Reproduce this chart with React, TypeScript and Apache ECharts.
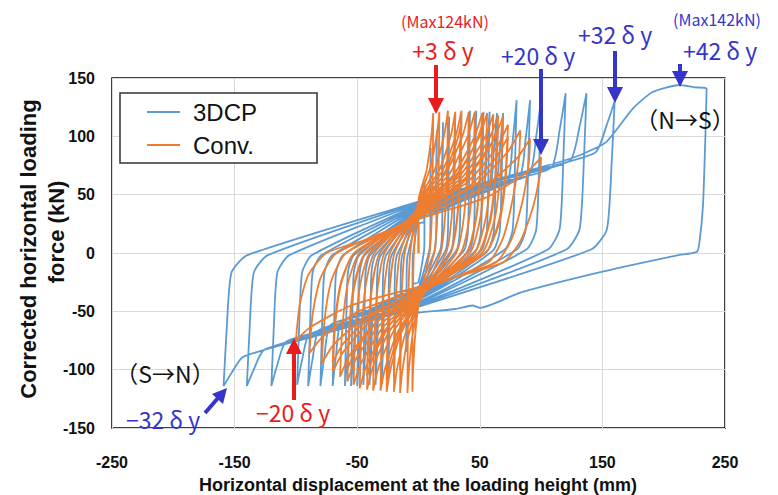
import React, { useEffect, useRef } from 'react';
import * as echarts from 'echarts';

// Axis ranges / ticks
const xRange = [-250, 250];
const xStep = 100;
const yRange = [-150, 150];
const yStep = 50;

// ---- 3DCP specimen: hysteresis cycles, [displacement mm, force kN]
const blueSmallCycles: number[][][] = [
  [[0,25],[2.5,26],[4.5,26],[4.8,43],[5,60],[4.9,36],[4.8,9],[4.4,1],[0,-25],[-2.5,-26],[-4.5,-26],[-4.8,-41],[-5,-55],[-4.9,-33],[-4.8,-8],[-4.4,-1]],
  [[0,30],[5,32],[9,33],[9.6,61],[10,90],[9.85,54],[9.6,14],[8.8,2],[0,-30],[-5,-32],[-9,-33],[-9.6,-59],[-10,-85],[-9.85,-51],[-9.6,-13],[-8.8,-2]],
  [[0,30],[7.5,32],[13.5,34],[14.4,70],[15,105],[14.8,63],[14.4,16],[13.2,2],[0,-30],[-7.5,-32],[-13.5,-34],[-14.4,-67],[-15,-100],[-14.8,-60],[-14.4,-15],[-13.2,-2]],
  [[0,32],[10,35],[18,37],[19.2,75],[20,112],[19.7,67],[19.2,17],[17.6,2],[0,-32],[-10,-35],[-18,-37],[-19.2,-72],[-20,-106],[-19.7,-64],[-19.2,-16],[-17.6,-2]],
  [[0,32],[12.5,36],[22.5,39],[24,78],[25,117],[24.6,70],[24,18],[22,2],[0,-33],[-12.5,-37],[-22.5,-40],[-24,-75],[-25,-110],[-24.6,-66],[-24,-17],[-22,-2]],
  [[0,33],[15,36],[27,41],[28.8,80],[30,119],[29.5,71],[28.8,18],[26.4,2],[0,-34],[-15,-37],[-27,-42],[-28.8,-77],[-30,-112],[-29.5,-67],[-28.8,-17],[-26.4,-2]],
  [[0,34],[17.5,39],[31.5,43],[33.6,82],[35,120],[34.5,72],[33.6,18],[30.8,2],[0,-35],[-17.5,-40],[-31.5,-44],[-33.6,-79],[-35,-113],[-34.5,-68],[-33.6,-17],[-30.8,-2]],
];
const blueMidCycles: number[][][] = [
  [[0,35],[21,41],[37.8,46],[40.3,85],[42,122],[41.4,73],[40.3,18],[37,2],[0,-36],[-20,-42],[-36,-47],[-38.4,-80],[-40,-113],[-39.4,-68],[-38.4,-17],[-35.2,-2]],
  [[0,35],[23.5,42],[42.3,48],[45.1,85],[47,122],[46.3,73],[45.1,18],[41.4,2],[0,-37],[-22.5,-44],[-40.5,-49],[-43.2,-82],[-45,-113],[-44.3,-68],[-43.2,-17],[-39.6,-2]],
  [[0,36],[26.5,44],[47.7,50],[50.9,86],[53,121],[52.2,73],[50.9,18],[46.6,2],[0,-38],[-25,-46],[-45,-52],[-48,-83],[-50,-114],[-49.2,-68],[-48,-17],[-44,-2]],
  [[0,36],[29,45],[52.2,52],[55.7,87],[58,121],[57.1,73],[55.7,18],[51,2],[0,-38],[-27.5,-46],[-49.5,-53],[-52.8,-84],[-55,-114],[-54.2,-68],[-52.8,-17],[-48.4,-2]],
  [[0,37],[32,47],[57.6,54],[61.4,88],[64,120],[63,72],[61.4,18],[56.3,2],[0,-39],[-30,-48],[-54,-55],[-57.6,-85],[-60,-114],[-59.1,-68],[-57.6,-17],[-52.8,-2]],
  [[0,37],[34.5,47],[62.1,56],[66.2,88],[69,120],[68,72],[66.2,18],[60.7,2],[0,-40],[-35,-50],[-63,-59],[-67.2,-87],[-70,-114],[-69,-68],[-67.2,-17],[-61.6,-2]],
];
const blueLargeCycles: number[][][] = [
  [[0,38],[40,50],[72,60],[76.8,96],[80,131],[78.8,79],[76.8,20],[70.4,3],[0,-40],[-40,-52],[-72,-62],[-76.8,-89],[-80,-114],[-78.8,-68],[-76.8,-17],[-70.4,-2]],
  [[0,39],[45.5,53],[81.9,64],[87.4,98],[91,131],[89.6,79],[87.4,20],[80.1,3],[0,-42],[-45,-56],[-81,-66],[-86.4,-91],[-90,-114],[-88.6,-68],[-86.4,-17],[-79.2,-2]],
  [[0,40],[50,55],[90,67],[96,100],[100,132],[98.5,79],[96,20],[88,3],[0,-43],[-49.5,-58],[-89.1,-70],[-95,-92],[-99,-113],[-97.5,-68],[-95,-17],[-87.1,-2]],
  [[0,41],[60,59],[108,73],[115.2,106],[120,137],[118.2,82],[115.2,21],[105.6,3],[0,-44],[-60,-62],[-108,-76],[-115.2,-96],[-120,-114],[-118.2,-68],[-115.2,-17],[-105.6,-2]],
  [[0,42],[68.5,63],[123.3,79],[131.5,109],[137,137],[135,82],[131.5,21],[120.6,3],[0,-45],[-70,-66],[-126,-83],[-134.4,-100],[-140,-114],[-137.9,-68],[-134.4,-17],[-123.2,-2]],
  [[0,43],[80,67],[144,86],[153.6,110],[160,130],[157.6,78],[153.6,20],[140.8,3],[0,-46],[-79.5,-70],[-143.1,-89],[-152.6,-103],[-159,-114],[-156.6,-68],[-152.6,-17],[-140,-2]],
];
const blueFinalPush: number[][] = [
  [0,44],[60,62],[115,78],[132,84],[153,95],[175,124],[191,138],[213,144],[225,142],[235,141],[234,100],[232,40],[229,8],[227,1],[211,-2],[150,-16],[83,-34],[50,-47],[44,-45],[30,-48],[0,-51],[-15,-54],
];

// ---- Conventional specimen cycles
const convEarlyCycles: number[][][] = [
  [[0,45],[6.6,71],[10.6,101],[12,120],[11.6,72],[10.8,30],[9,0],[0,-45],[-2.75,-71],[-4.4,-100],[-5,-119],[-4.85,-71],[-4.5,-30],[-3.75,0]],
  [[0,45],[9.35,72],[15,102],[17,121],[16.5,73],[15.3,30],[12.75,0],[0,-45],[-4.95,-71],[-7.9,-101],[-9,-120],[-8.7,-72],[-8.1,-30],[-6.75,0]],
  [[0,44],[13.2,71],[21.1,102],[24,122],[23.3,73],[21.6,31],[18,0],[0,-44],[-8.25,-71],[-13.2,-101],[-15,-120],[-14.55,-72],[-13.5,-30],[-11.25,0]],
  [[0,43],[16.5,70],[26.4,101],[30,121],[29.1,73],[27,30],[22.5,0],[0,-43],[-11,-70],[-17.6,-100],[-20,-119],[-19.4,-71],[-18,-30],[-15,0]],
  [[0,42],[19.25,70],[30.8,102],[35,122],[34,73],[31.5,31],[26.25,0],[0,-42],[-14.3,-69],[-22.9,-100],[-26,-119],[-25.2,-71],[-23.4,-30],[-19.5,0]],
  [[0,40],[19.25,65],[30.8,94],[35,112],[34,67],[31.5,28],[26.25,0],[0,-40],[-14.3,-65],[-22.9,-92],[-26,-110],[-25.2,-66],[-23.4,-28],[-19.5,0]],
  [[0,41],[22.55,69],[36.1,101],[41,121],[39.8,73],[36.9,30],[30.75,0],[0,-41],[-17.05,-68],[-27.3,-99],[-31,-118],[-30.1,-71],[-27.9,-30],[-23.25,0]],
  [[0,40],[25.3,68],[40.5,101],[46,121],[44.6,73],[41.4,30],[34.5,0],[0,-40],[-20.35,-67],[-32.6,-98],[-37,-118],[-35.9,-71],[-33.3,-30],[-27.75,0]],
];
const convMidCycles: number[][][] = [
  [[0,39],[28.6,67],[45.8,100],[52,120],[50.4,72],[46.8,30],[39,0],[0,-39],[-23.1,-66],[-37,-97],[-42,-117],[-40.7,-70],[-37.8,-29],[-31.5,0]],
  [[0,37],[28.6,62],[45.8,92],[52,110],[50.4,66],[46.8,28],[39,0],[0,-37],[-23.1,-61],[-37,-89],[-42,-106],[-40.7,-64],[-37.8,-26],[-31.5,0]],
  [[0,38],[30.8,67],[49.3,99],[56,120],[54.3,72],[50.4,30],[42,0],[0,-38],[-26.4,-65],[-42.2,-96],[-48,-116],[-46.6,-70],[-43.2,-29],[-36,0]],
  [[0,37],[33.55,66],[53.7,98],[61,119],[59.2,71],[54.9,30],[45.75,0],[0,-37],[-29.15,-64],[-46.6,-94],[-53,-113],[-51.4,-68],[-47.7,-28],[-39.75,0]],
  [[0,36],[35.75,65],[57.2,97],[65,118],[63,71],[58.5,30],[48.75,0],[0,-36],[-31.9,-62],[-51,-91],[-58,-110],[-56.3,-66],[-52.2,-28],[-43.5,0]],
  [[0,34],[35.75,60],[57.2,89],[65,108],[63,65],[58.5,27],[48.75,0],[0,-34],[-31.9,-57],[-51,-83],[-58,-100],[-56.3,-60],[-52.2,-25],[-43.5,0]],
  [[0,35],[37.95,64],[60.7,96],[69,117],[66.9,70],[62.1,29],[51.75,0],[0,-35],[-35.2,-60],[-56.3,-88],[-64,-106],[-62.1,-64],[-57.6,-26],[-48,0]],
];
const convLateCycles: number[][][] = [
  [[0,34],[40.15,61],[64.2,91],[73,110],[70.8,66],[65.7,28],[54.75,0],[0,-34],[-38.5,-58],[-61.6,-85],[-70,-102],[-67.9,-61],[-63,-26],[-52.5,0]],
  [[0,32],[40.15,56],[64.2,83],[73,100],[70.8,60],[65.7,25],[54.75,0],[0,-32],[-38.5,-54],[-61.6,-78],[-70,-94],[-67.9,-56],[-63,-24],[-52.5,0]],
  [[0,33],[45.65,58],[73,87],[83,105],[82,82],[77,47],[69,13],[57,-8],[0,-33],[-43.45,-55],[-69.5,-79],[-79,-95],[-76.6,-57],[-71.1,-24],[-59.25,0]],
  [[0,31],[50,54],[80,81],[91,98],[90,78],[85,45],[76,12],[63,-8],[0,-31],[-49,-50],[-78.3,-72],[-89,-86],[-86.3,-52],[-80.1,-22],[-66.75,0]],
  [[0,29],[55,47.5],[88,69],[100,82],[99,67],[93,38],[83,10],[69,-8],[0,-29],[-55,-45],[-88,-63.5],[-100,-75],[-97,-45],[-90,-19],[-75,0],[-30,15]],
];

const blueData: number[][] = [[0, 0], ...blueSmallCycles.flat(), ...blueMidCycles.flat(), ...blueLargeCycles.flat(), ...blueFinalPush];
const convData: number[][] = [[0, 0], ...convEarlyCycles.flat(), ...convMidCycles.flat(), ...convLateCycles.flat()];

const BLUE = '#5b9bd5';
const ORANGE = '#ed7d31';
const INK_BLUE = '#3535c8';
const INK_RED = '#e81c1c';
const SANS = '"Liberation Sans", Arial, sans-serif';
const CJK = '"Noto Sans CJK JP", "Noto Sans", sans-serif';

function arrowDown(x: number, yTop: number, yTip: number, color: string) {
  return [
    { type: 'line', z: 100, shape: { x1: x, y1: yTop, x2: x, y2: yTip - 12 }, style: { stroke: color, lineWidth: 4 } },
    { type: 'polygon', z: 100, shape: { points: [[x - 8, yTip - 16], [x + 8, yTip - 16], [x, yTip]] }, style: { fill: color } },
  ];
}
function arrowUp(x: number, yBottom: number, yTip: number, color: string) {
  return [
    { type: 'line', z: 100, shape: { x1: x, y1: yBottom, x2: x, y2: yTip + 12 }, style: { stroke: color, lineWidth: 4 } },
    { type: 'polygon', z: 100, shape: { points: [[x - 8, yTip + 16], [x + 8, yTip + 16], [x, yTip]] }, style: { fill: color } },
  ];
}
function label(x: number, y: number, text: string, fill: string, font: string, rotation = 0) {
  return {
    type: 'text', z: 100, x, y, rotation,
    style: { text, fill, font, textAlign: 'center', textVerticalAlign: 'middle', verticalAlign: 'middle' },
  };
}

export default function App() {
  const ref = useRef<HTMLDivElement>(null);
  useEffect(() => {
    if (!ref.current) return;
    const chart = echarts.init(ref.current, null, { renderer: 'svg' });
    chart.setOption({
      animation: false,
      backgroundColor: '#ffffff',
      grid: { left: 112, top: 78, right: 53, bottom: 67, show: true, borderColor: '#000', borderWidth: 1.5, backgroundColor: 'transparent' },
      xAxis: {
        type: 'value', min: xRange[0], max: xRange[1], interval: xStep,
        axisLine: { show: false }, axisTick: { show: false },
        splitLine: { show: true, lineStyle: { color: '#d9d9d9', width: 1 } },
        axisLabel: { margin: 26, fontSize: 16, fontWeight: 'bold', color: '#111', fontFamily: SANS },
      },
      yAxis: {
        type: 'value', min: yRange[0], max: yRange[1], interval: yStep,
        axisLine: { show: false }, axisTick: { show: false },
        splitLine: { show: true, lineStyle: { color: '#d9d9d9', width: 1 } },
        axisLabel: { margin: 17, fontSize: 16, fontWeight: 'bold', color: '#111', fontFamily: SANS },
      },
      legend: {
        data: [{ name: '3DCP', icon: 'rect' }, { name: 'Conv.', icon: 'rect' }],
        orient: 'vertical', left: 120, top: 93,
        itemWidth: 33, itemHeight: 2, itemGap: 9,
        padding: [7, 60, 6, 27],
        borderColor: '#333', borderWidth: 1.5, backgroundColor: '#fff',
        textStyle: { fontSize: 24, fontFamily: SANS, color: '#111', padding: [0, 0, 0, 8], lineHeight: 24 },
      },
      series: [
        { name: '3DCP', type: 'line', data: blueData, symbol: 'none', showSymbol: false, z: 2, smooth: 0.2,
          lineStyle: { color: BLUE, width: 1.8 }, itemStyle: { color: BLUE } },
        { name: 'Conv.', type: 'line', data: convData, symbol: 'none', showSymbol: false, z: 3, smooth: 0.2,
          lineStyle: { color: ORANGE, width: 1.8 }, itemStyle: { color: ORANGE } },
      ],
      graphic: [
        label(418, 485, 'Horizontal displacement at the loading height (mm)', '#111', `bold 18px ${SANS}`),
        label(28, 249, 'Corrected horizontal loading', '#111', `bold 22px ${SANS}`, Math.PI / 2),
        label(56, 232, 'force (kN)', '#111', `bold 22px ${SANS}`, Math.PI / 2),
        label(445, 21, '(Max124kN)', INK_RED, `16px ${CJK}`),
        label(443, 50, '+3 δ y', INK_RED, `23px ${CJK}`),
        ...arrowDown(436, 65, 114, INK_RED),
        label(538, 55, '+20 δ y', INK_BLUE, `23px ${CJK}`),
        ...arrowDown(541, 69, 155, INK_BLUE),
        label(615, 34, '+32 δ y', INK_BLUE, `23px ${CJK}`),
        ...arrowDown(615, 51, 103, INK_BLUE),
        label(717, 19, '(Max142kN)', INK_BLUE, `16px ${CJK}`),
        label(720, 50, '+42 δ y', INK_BLUE, `23px ${CJK}`),
        ...arrowDown(680, 64, 87, INK_BLUE),
        label(685, 119, '（N→S）', '#111', `23px ${CJK}`),
        label(165, 373, '（S→N）', '#111', `23px ${CJK}`),
        label(163, 419, '−32 δ y', INK_BLUE, `23px ${CJK}`),
        { type: 'line', z: 100, shape: { x1: 205, y1: 413, x2: 218, y2: 398 }, style: { stroke: INK_BLUE, lineWidth: 4 } },
        { type: 'polygon', z: 100, shape: { points: [[223, 404], [212, 394], [227, 388]] }, style: { fill: INK_BLUE } },
        label(293, 412, '−20 δ y', INK_RED, `23px ${CJK}`),
        ...arrowUp(294, 400, 338, INK_RED),
      ],
    });
    return () => chart.dispose();
  }, []);
  return <div ref={ref} style={{ position: 'absolute', left: 0, top: 0, width: 778, height: 495 }} />;
}
